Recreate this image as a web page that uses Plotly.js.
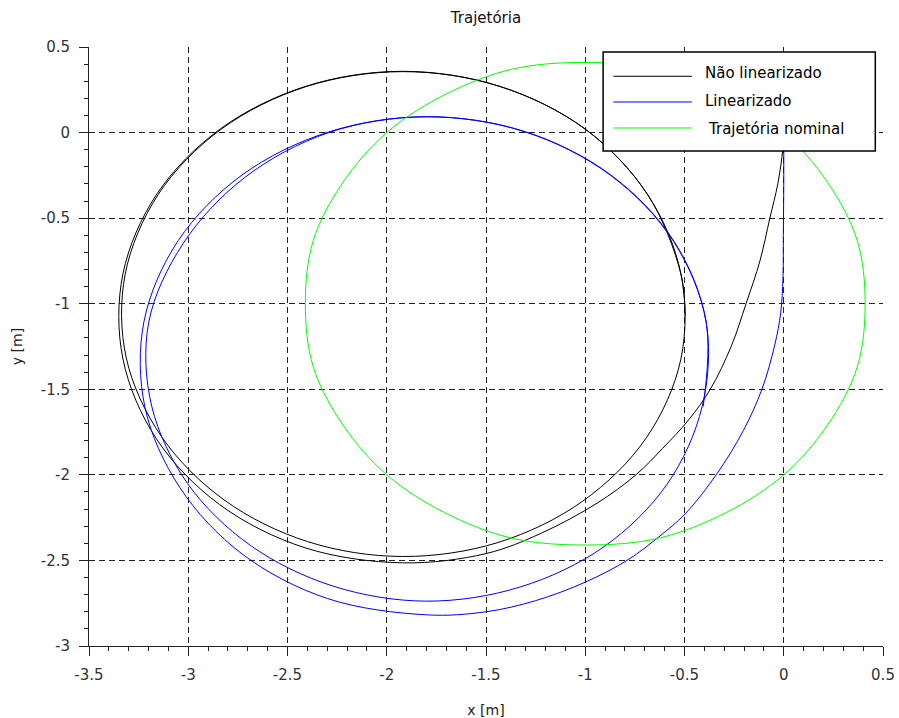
<!DOCTYPE html>
<html>
<head>
<meta charset="utf-8">
<script src="https://cdn.plot.ly/plotly-3.0.1.min.js"></script>
<style>html,body{margin:0;padding:0;background:#fff;}#chart{width:899px;height:718px;}</style>
</head>
<body>
<div id="chart"></div>
<script>
// ---- data ----
const naoLinX = [0, -0.005, -0.03, -0.07, -0.12, -0.19, -0.265, -0.37, -0.48, -0.61, -0.745, -0.94, -1.22, -1.50,
  -1.92, -2.412, -2.843, -3.160, -3.329, -3.329, -3.158, -2.839, -2.409, -1.92, -1.431, -1.001, -0.686, -0.518, -0.518, -0.692, -1.013, -1.439,
  -1.92, -2.399, -2.820, -3.135, -3.312, -3.318, -3.152, -2.836, -2.408, -1.92, -1.431, -1.001, -0.686, -0.518, -0.497];
const naoLinY = [0, -0.10, -0.30, -0.50, -0.75, -1.00, -1.25, -1.50, -1.68, -1.845, -2.00, -2.165, -2.34, -2.46,
  -2.514, -2.426, -2.173, -1.790, -1.323, -0.825, -0.359, 0.021, 0.270, 0.358, 0.270, 0.021, -0.362, -0.826, -1.322, -1.783, -2.154, -2.395,
  -2.477, -2.390, -2.146, -1.776, -1.318, -0.829, -0.363, 0.018, 0.268, 0.356, 0.270, 0.021, -0.362, -0.826, -1.074];

const linX = [0, 0, -0.002, -0.004, -0.015, -0.045, -0.11, -0.203, -0.337, -0.497, -0.631, -0.79, -1.00, -1.25, -1.50,
  -1.80, -2.298, -2.729, -3.043, -3.218, -3.223, -3.051, -2.729, -2.294, -1.80, -1.305, -0.871, -0.553, -0.391, -0.411, -0.588, -0.906, -1.327,
  -1.80, -2.271, -2.687, -3.004, -3.184, -3.199, -3.025, -2.716, -2.292, -1.80, -1.305, -0.872, -0.555, -0.391, -0.406];
const linY = [0, -0.30, -0.60, -0.85, -1.05, -1.24, -1.50, -1.74, -1.994, -2.228, -2.364, -2.50, -2.627, -2.735, -2.80,
  -2.818, -2.723, -2.462, -2.073, -1.606, -1.104, -0.632, -0.248, 0.003, 0.093, 0.006, -0.248, -0.635, -1.106, -1.600, -2.055, -2.420, -2.655,
  -2.738, -2.650, -2.412, -2.05, -1.599, -1.108, -0.647, -0.263, 0.0, 0.092, 0.005, -0.250, -0.636, -1.106, -1.601];

const nomX = [0, 0.22, 0.37, 0.41, 0.37, 0.22, 0, -0.29, -0.63, -1.00, -1.37, -1.71, -2.00, -2.22, -2.37, -2.41, -2.37, -2.22, -2.00, -1.71, -1.37, -1.00, -0.63, -0.29, 0];
const nomY = [0, -0.29, -0.63, -1.00, -1.37, -1.71, -2.00, -2.22, -2.37, -2.41, -2.37, -2.22, -2.00, -1.71, -1.37, -1.00, -0.63, -0.29, 0, 0.22, 0.37, 0.41, 0.37, 0.22, 0];

const seriesNames = ['Não linearizado', 'Linearizado', 'Trajetória nominal'];
const seriesColors = ['#000000', '#0000ff', '#00ff00'];

const xTickVals = [-3.5, -3, -2.5, -2, -1.5, -1, -0.5, 0, 0.5];
const xTickText = ['-3.5', '-3', '-2.5', '-2', '-1.5', '-1', '-0.5', '0', '0.5'];
const yTickVals = [0.5, 0, -0.5, -1, -1.5, -2, -2.5, -3];
const yTickText = ['0.5', '0', '-0.5', '-1', '-1.5', '-2', '-2.5', '-3'];

const FONT = 'DejaVu Sans, sans-serif';

const traces = [
  {x: naoLinX, y: naoLinY, name: seriesNames[0], mode: 'lines', line: {color: seriesColors[0], width: 1, shape: 'spline'}},
  {x: linX, y: linY, name: seriesNames[1], mode: 'lines', line: {color: seriesColors[1], width: 1, shape: 'spline'}},
  {x: nomX, y: nomY, name: seriesNames[2], mode: 'lines', line: {color: seriesColors[2], width: 1, shape: 'spline'}}
];

// custom legend box (Scilab style) in paper coordinates
const legRows = [0.9511, 0.9082, 0.8648];
const legText = [0.9558, 0.9103, 0.8631];
const legTextX = [0.7735, 0.7735, 0.7776];
const shapes = [
  {type: 'rect', xref: 'paper', yref: 'paper', x0: 0.6475, x1: 0.9903, y0: 0.8264, y1: 0.9917,
   fillcolor: '#ffffff', line: {color: '#000000', width: 1.5}, layer: 'above'}
];
const annotations = [];
for (let i = 0; i < 3; i++) {
  shapes.push({type: 'line', xref: 'paper', yref: 'paper', x0: 0.6605, x1: 0.7593, y0: legRows[i], y1: legRows[i],
    line: {color: seriesColors[i], width: 1}, layer: 'above'});
  annotations.push({xref: 'paper', yref: 'paper', x: legTextX[i], y: legText[i], xanchor: 'left', yanchor: 'middle',
    text: seriesNames[i], showarrow: false, font: {family: FONT, size: 15, color: '#000'}});
}

const axisCommon = {
  showgrid: true, gridcolor: '#222', griddash: '6px,4px', gridwidth: 1,
  zeroline: false, showline: true, linecolor: '#222', linewidth: 1,
  ticks: 'outside', ticklen: 9, tickcolor: '#222', tickwidth: 1,
  tickmode: 'array', ticklabelstandoff: 6,
  tickfont: {family: FONT, size: 15, color: '#333'},
  automargin: false, fixedrange: true
};

const layout = {
  width: 899, height: 718,
  margin: {l: 89, r: 16, t: 47, b: 72},
  paper_bgcolor: '#fff', plot_bgcolor: '#fff',
  showlegend: false,
  title: {text: 'Trajetória', x: 0.5, xref: 'paper', xanchor: 'center', y: 0.975, yanchor: 'middle',
          font: {family: FONT, size: 15, color: '#111'}},
  xaxis: Object.assign({}, axisCommon, {
    range: [-3.5, 0.5], tickvals: xTickVals, ticktext: xTickText,
    minor: {dtick: 0.1, ticks: 'outside', ticklen: 4, tickcolor: '#222', showgrid: false},
    title: {text: 'x [m]', standoff: 22, font: {family: FONT, size: 14, color: '#222'}}
  }),
  yaxis: Object.assign({}, axisCommon, {
    range: [-3, 0.5], tickvals: yTickVals, ticktext: yTickText,
    minor: {dtick: 0.1, ticks: 'outside', ticklen: 4, tickcolor: '#222', showgrid: false},
    title: {text: 'y [m]', standoff: 14, font: {family: FONT, size: 14, color: '#222'}}
  }),
  shapes: shapes,
  annotations: annotations
};

Plotly.newPlot('chart', traces, layout, {displayModeBar: false, staticPlot: true});
</script>
</body>
</html>
